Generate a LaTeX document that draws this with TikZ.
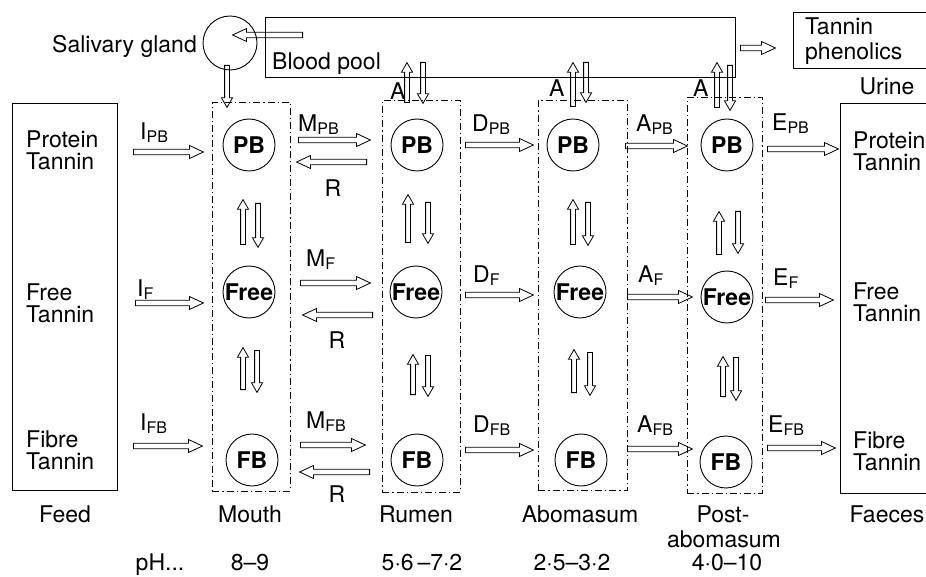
\documentclass[tikz,border=0pt]{standalone}
\usepackage{fontspec}
\setmainfont{TeX Gyre Heros}
\usetikzlibrary{shapes.arrows}
\newcommand\subl[2]{#1\raisebox{-3pt}{\fontsize{16}{16}\selectfont #2}}
\newcommand\ha[5][hol]{\node[#1, shape border rotate=#5, minimum height=#4] (#2) at (#3) {};}
\tikzset{
  txt/.style={font=\fontsize{23}{22}\selectfont, inner sep=0pt},
  box/.style={draw, line width=0.9pt, inner sep=0pt, anchor=north west},
  comp/.style={draw, line width=0.9pt, inner sep=0pt, anchor=north west,
    dash pattern=on 7pt off 3pt on 1.2pt off 3pt},
  pool/.style={circle, draw, line width=0.9pt, minimum size=52pt, inner sep=0pt,
    font=\fontsize{23}{24}\selectfont\bfseries},
  hol/.style={single arrow, draw, line width=0.8pt, inner sep=2.3pt,
    single arrow head extend=3.8pt, single arrow tip angle=50, anchor=tail},
  holsm/.style={hol, inner sep=2pt, single arrow head extend=3.2pt, single arrow tip angle=60},
}
\begin{document}
\begin{tikzpicture}[x=1pt,y=-1pt]
\useasboundingbox (0,0) rectangle (926,577);
\begin{scope}
\clip (0,0) rectangle (926,577);
% boxes
\node[box, minimum width=105, minimum height=387] (feed) at (12,103) {};
\node[box, minimum width=100, minimum height=390] (faeces) at (840,103) {};
\node[box, minimum width=140, minimum height=56] (phen) at (793,12) {};
\node[box, minimum width=470, minimum height=60] (blood) at (265,17) {};
\end{scope}
\node[circle, draw, line width=0.9pt, minimum size=54pt, inner sep=0pt] (gland) at (230,43) {};
% compartments
\node[comp, minimum width=78, minimum height=389] (mouth) at (212,102) {};
\node[comp, minimum width=78, minimum height=392] (rumen) at (382,100) {};
\node[comp, minimum width=89, minimum height=390] (abo) at (538,100) {};
\node[comp, minimum width=75, minimum height=396] (post) at (687,97) {};
% pools
\node[pool] (pb1) at (249,145) {PB};
\node[pool] (fr1) at (249,292) {Free};
\node[pool] (fb1) at (252,460) {FB};
\node[pool] (pb2) at (417,145) {PB};
\node[pool] (fr2) at (416,292) {Free};
\node[pool] (fb2) at (417,460) {FB};
\node[pool] (pb3) at (573,145) {PB};
\node[pool] (fr3) at (580,292) {Free};
\node[pool] (fb3) at (581,460) {FB};
\node[pool] (pb4) at (727,145) {PB};
\node[pool] (fr4) at (727,297) {Free};
\node[pool] (fb4) at (726,462) {FB};
% texts
\node[txt, anchor=base east] (tgland) at (197,53) {Salivary gland};
\node[txt, anchor=base west] (tblood) at (272,70) {Blood pool};
\node[txt, anchor=west, align=left, font=\fontsize{23}{25}\selectfont] (tphen) at (805,41) {Tannin\\phenolics};
\node[txt] (turine) at (887,86) {Urine};
\node[txt, anchor=west, align=left] (f1) at (26,150) {Protein\\Tannin};
\node[txt, anchor=west, align=left] (f2) at (26,303) {Free\\Tannin};
\node[txt, anchor=west, align=left] (f3) at (26,450) {Fibre\\Tannin};
\node[txt, anchor=west, align=left] (e1) at (853,151) {Protein\\Tannin};
\node[txt, anchor=west, align=left] (e2) at (853,302) {Free\\Tannin};
\node[txt, anchor=west, align=left] (e3) at (853,451) {Fibre\\Tannin};
\node[txt, anchor=base] (lfeed) at (65,522) {Feed};
\node[txt, anchor=base] (lmouth) at (250,522) {Mouth};
\node[txt, anchor=base] (lrumen) at (416,522) {Rumen};
\node[txt, anchor=base] (labo) at (580,522) {Abomasum};
\node[txt, anchor=base] (lpost) at (723,522) {Post-};
\node[txt, anchor=base] (lpost2) at (724,547) {abomasum};
\node[txt, anchor=base] (lfaec) at (887,522) {Faeces};
\node[txt, anchor=base] (ph0) at (160,570) {pH...};
\node[txt, anchor=base] (ph1) at (250,570) {8--9};
\node[txt, anchor=base] (ph2) at (422,570) {5·6\,--7·2};
\node[txt, anchor=base] (ph3) at (572,570) {2·5--3·2};
\node[txt, anchor=base] (ph4) at (727,570) {4·0--10};
% flow labels
\node[txt, anchor=base west] (l1) at (140,140) {\subl{I}{PB}};
\node[txt, anchor=base west] (l2) at (298,132) {\subl{M}{PB}};
\node[txt, anchor=base] (l3) at (333,197) {R};
\node[txt, anchor=base west] (l4) at (472,132) {\subl{D}{PB}};
\node[txt, anchor=base west] (l5) at (636,132) {\subl{A}{PB}};
\node[txt, anchor=base west] (l6) at (772,131) {\subl{E}{PB}};
\node[txt, anchor=base west] (l7) at (137,297) {\subl{I}{F}};
\node[txt, anchor=base west] (l8) at (306,267) {\subl{M}{F}};
\node[txt, anchor=base] (l9) at (337,348) {R};
\node[txt, anchor=base west] (l10) at (473,283) {\subl{D}{F}};
\node[txt, anchor=base west] (l11) at (638,283) {\subl{A}{F}};
\node[txt, anchor=base west] (l12) at (773,286) {\subl{E}{F}};
\node[txt, anchor=base west] (l13) at (140,430) {\subl{I}{FB}};
\node[txt, anchor=base west] (l14) at (306,428) {\subl{M}{FB}};
\node[txt, anchor=base] (l15) at (337,502) {R};
\node[txt, anchor=base west] (l16) at (473,432) {\subl{D}{FB}};
\node[txt, anchor=base west] (l17) at (637,432) {\subl{A}{FB}};
\node[txt, anchor=base west] (l18) at (768,432) {\subl{E}{FB}};
\node[txt, anchor=base west] (la1) at (390,100) {A};
\node[txt, anchor=base west] (la2) at (549,97) {A};
\node[txt, anchor=base west] (la3) at (693,97) {A};
% horizontal flows
\ha{iPB}{133,152}{70}{0}
\ha{mPB}{298,140}{72}{0}
\ha{rPB}{367,162}{70}{180}
\ha{dPB}{465,145}{68}{0}
\ha{aPB}{625,146}{62}{0}
\ha{ePB}{767,149}{71}{0}
\ha{iF}{135,303}{68}{0}
\ha{mF}{300,283}{70}{0}
\ha{rF}{373,315}{70}{180}
\ha{dF}{465,295}{68}{0}
\ha{aF}{627,297}{65}{0}
\ha{eF}{765,300}{68}{0}
\ha{iFB}{133,446}{69}{0}
\ha{mFB}{300,445}{65}{0}
\ha{rFB}{370,472}{70}{180}
\ha{dFB}{465,450}{68}{0}
\ha{aFB}{627,449}{65}{0}
\ha{eFB}{767,448}{68}{0}
% vertical exchanges
\ha[holsm]{v1}{243,245}{45}{90}
\ha[holsm]{v2}{258,203}{44}{270}
\ha[holsm]{v3}{243,390}{42}{90}
\ha[holsm]{v4}{257,350}{42}{270}
\ha[holsm]{v5}{408,243}{48}{90}
\ha[holsm]{v6}{428,202}{41}{270}
\ha[holsm]{v7}{413,395}{40}{90}
\ha[holsm]{v8}{428,355}{41}{270}
\ha[holsm]{v9}{573,245}{45}{90}
\ha[holsm]{v10}{588,202}{43}{270}
\ha[holsm]{v11}{574,393}{43}{90}
\ha[holsm]{v12}{590,352}{43}{270}
\ha[holsm]{v13}{719,255}{43}{90}
\ha[holsm]{v14}{738,211}{42}{270}
\ha[holsm]{v15}{723,397}{40}{90}
\ha[holsm]{v16}{736,357}{43}{270}
% blood pool exchanges
\ha{g1}{303,35}{70}{180}
\ha[holsm]{g2}{227,65}{42}{270}
\ha[holsm]{b1}{407,103}{40}{90}
\ha[holsm]{b2}{423,62}{41}{270}
\ha[holsm]{b3}{573,107}{44}{90}
\ha[holsm]{b4}{586,62}{40}{270}
\ha[holsm]{b5}{717,108}{45}{90}
\ha[holsm]{b6}{730,65}{45}{270}
\ha{ph}{740,48}{35}{0}
\end{tikzpicture}
\end{document}
